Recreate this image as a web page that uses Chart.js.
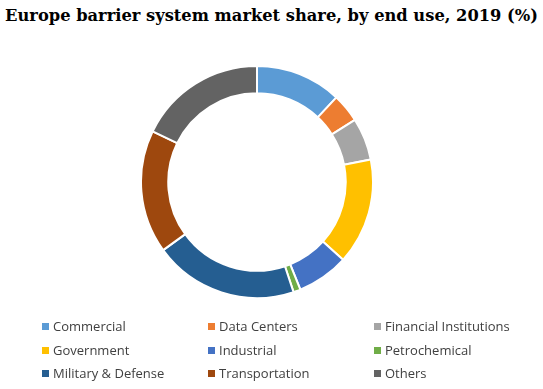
<!DOCTYPE html>
<html><head><meta charset="utf-8">
<script src="https://cdn.jsdelivr.net/npm/chart.js@4.4.0/dist/chart.umd.min.js"></script>
<style>
html,body{margin:0;padding:0;background:#fff;width:543px;height:389px;overflow:hidden;position:relative;}
#title{position:absolute;left:0;top:6px;width:543px;text-align:center;font-family:"DejaVu Serif",serif;font-weight:bold;font-size:16.3px;color:#000;white-space:nowrap;}
#wrap{position:absolute;left:138px;top:63px;width:238px;height:238px;}
#legend{position:absolute;left:0;top:0;width:543px;height:389px;pointer-events:none;}
.li{position:absolute;font-family:"Open Sans",sans-serif;font-size:13px;color:#404040;white-space:nowrap;line-height:16px;}
.li span.b{display:inline-block;width:7px;height:7px;margin-right:4px;vertical-align:1px;}
</style></head>
<body>
<div id="title">Europe barrier system market share, by end use, 2019 (%)</div>
<div id="wrap"><canvas id="c" width="238" height="238"></canvas></div>
<div id="legend"></div>
<script>
const categories = ["Commercial","Data Centers","Financial Institutions","Government","Industrial","Petrochemical","Military & Defense","Transportation","Others"];
const shares = [12.0, 4.0, 5.9, 14.8, 7.2, 1.0, 20.1, 17.2, 17.8];
const colors = ["#5B9BD5","#ED7D31","#A5A5A5","#FFC000","#4472C4","#70AD47","#255E91","#9E480E","#636363"];

const chart = new Chart(document.getElementById('c'), {
  type: 'doughnut',
  data: { labels: categories, datasets: [{ data: shares, backgroundColor: colors, borderColor: '#ffffff', borderWidth: 2 }] },
  options: {
    responsive: false, animation: false, cutout: '76.5%',
    layout: { padding: 2 },
    plugins: { legend: { display: false }, title: { display: false }, tooltip: { enabled: false } }
  }
});

const colX = [42, 208, 374];
const rowY = [318, 342, 365];
const leg = document.getElementById('legend');
categories.forEach((name, i) => {
  const d = document.createElement('div');
  d.className = 'li';
  d.style.left = colX[i % 3] + 'px';
  d.style.top = rowY[Math.floor(i / 3)] + 'px';
  const b = document.createElement('span');
  b.className = 'b';
  b.style.background = colors[i];
  d.appendChild(b);
  d.appendChild(document.createTextNode(name));
  leg.appendChild(d);
});
</script>
</body></html>
